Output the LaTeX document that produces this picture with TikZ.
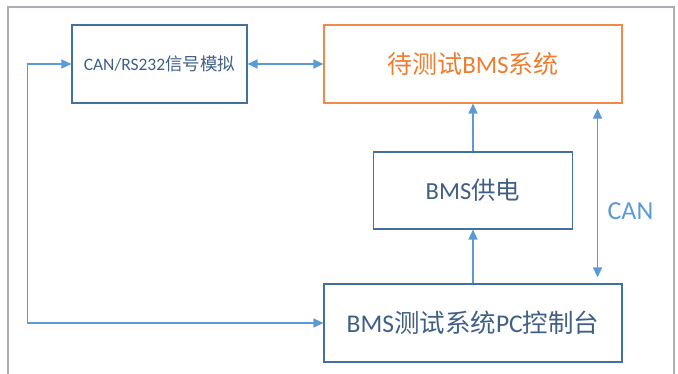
\documentclass[tikz,border=0pt]{standalone}
\usepackage{fontspec}
\usepackage{xcolor}
\usepackage{tikz}
\usetikzlibrary{arrows.meta, positioning, calc}
\setmainfont{Carlito}
\newfontfamily\cjk{Noto Sans CJK SC}
\definecolor{boxblue}{HTML}{41719C}
\definecolor{txtblue}{HTML}{3F5F85}
\definecolor{arrblue}{HTML}{5B9BD5}
\definecolor{dutorange}{HTML}{F08A4B}
\definecolor{dutText}{HTML}{ED7D31}
\definecolor{framegray}{HTML}{A9AEB4}

\begin{document}
\begin{tikzpicture}[
    x=1pt, y=-1pt,
    >={Triangle[length=10pt, width=9pt]},
    block/.style={draw=boxblue, line width=1.1pt, inner sep=0pt, align=center, text=txtblue, font=\fontsize{24.5}{28}\selectfont},
    arr/.style={draw=arrblue, line width=1.4pt},
    frame/.style={draw=framegray, line width=1.4pt}
]
    \useasboundingbox (0,0) rectangle (678,374);
    % outer frame
    \draw[frame] (8,374) -- (8,7) -- (674,7) -- (674,374);

    \node[block, minimum width=175pt, minimum height=78pt, font=\fontsize{17.5}{20}\selectfont] (sig) at (159.5,64) {CAN/RS232{\cjk 信号模拟}};
    \node[block, draw=dutorange, text=dutText, font=\fontsize{25}{28}\selectfont, minimum width=298pt, minimum height=78pt] (dut) at (473,64) {{\cjk 待测试}BMS{\cjk 系统}};
    \node[block, minimum width=199pt, minimum height=77pt] (pwr) at (473,190.5) {BMS{\cjk 供电}};
    \node[block, font=\fontsize{25.5}{28}\selectfont, minimum width=298pt, minimum height=78pt] (pc) at (473,323) {BMS{\cjk 测试系统}PC{\cjk 控制台}};

    \draw[arr, <->] (sig) -- (dut);
    \draw[arr, <->] (sig.west) -- ++(-44,0) |- (pc.west);
    \draw[arr, ->] (pc) -- (pwr);
    \draw[arr, ->] (pwr) -- (dut);
    \draw[arr, <->, shorten <=5pt, shorten >=6pt]
        ([xshift=-25pt]dut.south east) -- ([xshift=-25pt]pc.north east)
        node[pos=0.6, right=6pt, text=arrblue, font=\fontsize{26}{30}\selectfont] (can) {CAN};
\end{tikzpicture}
\end{document}
